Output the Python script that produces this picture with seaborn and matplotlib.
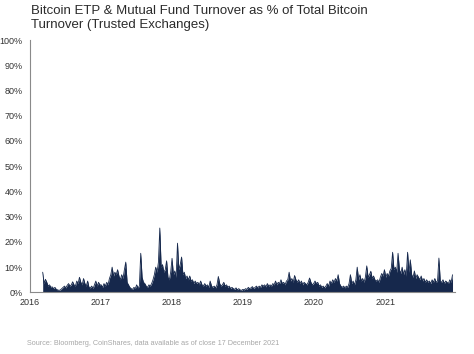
"""
Bitcoin ETP & mutual fund turnover as a share of total bitcoin turnover
(trusted exchanges), weekly, 2016-2021.
"""
import numpy as np
import pandas as pd
import matplotlib
matplotlib.use("Agg")
from matplotlib import pyplot as plt
import seaborn as sns

# Weekly readings (% of total turnover), one list per calendar year
turnover_2016 = [8.0, 3.5, 5.2, 4.0, 2.5, 3.0, 2.0, 2.2, 1.5, 2.0, 1.2, 1.0, 0.8, 1.0,
                 1.5, 2.0, 2.5, 1.8, 2.8, 3.5, 2.5, 3.0, 4.2, 3.0, 2.5, 4.5, 3.5, 6.0,
                 4.0, 3.0, 5.5, 3.5, 2.5, 4.5, 2.0, 1.8, 2.5, 1.5, 3.0, 4.5, 2.5, 4.0, 3.0]
turnover_2017 = [3.0, 2.0, 3.5, 2.5, 4.0, 3.0, 5.5, 7.0, 10.0, 6.5, 8.0, 7.0, 9.0, 6.5,
                 5.0, 7.0, 5.5, 9.0, 12.0, 4.0, 3.0, 2.0, 1.5, 1.2, 2.0, 1.5, 3.0, 1.8,
                 2.5, 15.5, 6.0, 4.0, 3.5, 2.5, 2.0, 3.0, 2.5, 3.5, 5.0, 7.0, 10.0, 8.0,
                 12.0, 25.5, 10.0, 11.0, 8.0, 9.0, 12.5, 6.0, 5.0, 8.0]
turnover_2018 = [13.5, 7.0, 8.5, 6.0, 19.5, 9.0, 11.0, 14.0, 7.0, 8.0, 5.5, 6.5, 5.0,
                 6.5, 4.5, 5.0, 3.5, 4.5, 3.5, 4.0, 3.0, 4.5, 3.0, 2.5, 3.5, 2.5, 3.0,
                 2.0, 4.5, 2.5, 2.0, 2.5, 1.8, 3.0, 6.3, 3.5, 2.5, 3.0, 4.0, 2.5, 3.0,
                 2.0, 2.5, 1.5, 2.0, 1.5, 1.2, 1.8, 1.0, 1.5, 1.0, 0.8, 1.2]
turnover_2019 = [1.0, 1.5, 1.2, 2.0, 1.5, 1.8, 2.3, 1.5, 2.0, 2.5, 1.8, 2.5, 2.0, 3.0,
                 2.5, 3.0, 2.2, 3.5, 2.5, 3.0, 2.5, 3.5, 3.0, 4.5, 3.0, 4.0, 3.5, 5.0,
                 3.5, 4.0, 3.0, 4.5, 5.0, 8.0, 4.5, 5.5, 4.0, 6.7, 5.0, 4.0, 5.0, 3.5,
                 4.5, 3.0, 4.0, 3.5, 3.0, 4.0, 5.7, 4.0, 3.0, 3.5]
turnover_2020 = [4.5, 3.5, 4.0, 2.5, 3.0, 2.0, 2.5, 1.8, 2.5, 3.5, 2.5, 4.5, 3.5, 5.0,
                 4.0, 5.5, 4.5, 7.0, 3.5, 2.5, 2.0, 2.5, 1.8, 2.5, 2.0, 3.5, 7.0, 3.5,
                 4.5, 3.0, 5.0, 10.0, 5.0, 7.0, 4.5, 5.5, 4.0, 6.0, 10.5, 6.0, 7.0, 8.4,
                 5.5, 6.5, 5.0, 4.5, 5.0, 4.0, 6.0, 7.5, 6.5, 9.0]
turnover_2021 = [6.0, 7.5, 6.5, 8.5, 9.5, 15.9, 9.0, 10.0, 8.0, 15.5, 9.0, 7.5, 10.0,
                 7.0, 9.0, 6.5, 15.9, 8.0, 12.9, 7.0, 6.0, 8.5, 5.5, 7.0, 6.0, 5.0, 6.5,
                 4.5, 5.5, 4.0, 5.0, 4.0, 4.5, 3.5, 5.0, 4.0, 5.5, 4.0, 4.5, 13.6, 4.5,
                 4.0, 5.0, 3.5, 4.5, 4.0, 3.5, 5.0, 4.0, 7.0]

first_week = "2016-03-07"
year_ticks = ["2016", "2017", "2018", "2019", "2020", "2021"]
y_ticks = [0, 10, 20, 30, 40, 50, 60, 70, 80, 90, 100]

values = (turnover_2016 + turnover_2017 + turnover_2018
          + turnover_2019 + turnover_2020 + turnover_2021)
data = pd.DataFrame({
    "date": pd.date_range(first_week, periods=len(values), freq="7D"),
    "pct": values,
})

navy = "#16284c"
grey = "#8a8a8a"

sns.set_style("white")
plt.rcParams["font.family"] = ["Liberation Sans", "DejaVu Sans"]

fig, ax = plt.subplots(
    figsize=(4.74, 3.54), dpi=100,
    gridspec_kw=dict(left=0.063, right=0.96, top=0.887, bottom=0.174),
)

# Area
sns.lineplot(data=data, x="date", y="pct", color=navy, lw=0.6, ax=ax)
ax.fill_between(data["date"], 0, data["pct"], color=navy, lw=0)

# Axes
ax.set_xlim(pd.Timestamp("2016-01-01"), pd.Timestamp("2021-12-26"))
ax.set_ylim(0, 100)
ax.set_yticks(y_ticks)
ax.set_yticklabels([f"{t}%" for t in y_ticks])
ax.set_xticks([pd.Timestamp(f"{y}-01-01") for y in year_ticks])
ax.set_xticklabels(year_ticks)
ax.set_xlabel("")
ax.set_ylabel("")

for side in ["top", "right"]:
    ax.spines[side].set_visible(False)
for side in ["left", "bottom"]:
    ax.spines[side].set_color(grey)
    ax.spines[side].set_linewidth(0.8)

ax.tick_params(axis="y", direction="out", length=3, width=0.6, color=grey,
               labelsize=6.5, labelcolor="#333333", pad=2)
ax.tick_params(axis="x", direction="out", length=2, width=0.6, color=grey,
               labelsize=6.5, labelcolor="#333333", pad=2)

# Title
fig.text(
    0.065, 0.985,
    "Bitcoin ETP & Mutual Fund Turnover as % of Total Bitcoin\nTurnover (Trusted Exchanges)",
    fontsize=9.5, color="#2b2b2b", ha="left", va="top", linespacing=1.15,
)

# Source
fig.text(
    0.057, 0.03,
    "Source: Bloomberg, CoinShares, data available as of close 17 December 2021",
    fontsize=5.2, color="#a8a8a8", ha="left", va="center",
)

plt.savefig("out.png", dpi=100)
